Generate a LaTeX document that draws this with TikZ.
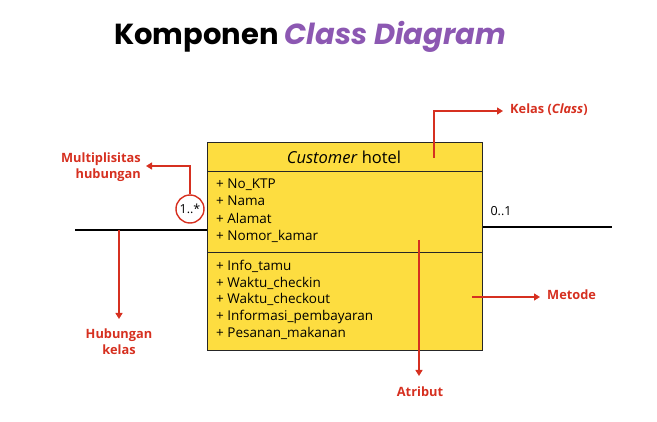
\documentclass[tikz,border=0pt]{standalone}
\usepackage{fontspec}
\setmainfont{Open Sans}
\newfontfamily\titlefont{Poppins}
\usetikzlibrary{arrows.meta}
\definecolor{redc}{RGB}{214,48,32}
\definecolor{purp}{RGB}{140,88,178}
\definecolor{yel}{RGB}{253,221,64}
\tikzset{
  cls/.style={draw=black!85, fill=yel, line width=1.3pt, minimum width=275pt, inner sep=0pt, anchor=north west},
  item/.style={anchor=west, inner sep=0pt, font=\fontsize{13.5}{15}\selectfont, text height=9.5pt, text depth=3pt},
  assoc/.style={line width=1.8pt, black},
  redarr/.style={draw=redc, line width=1.4pt, -{Triangle[length=6pt,width=7pt]}},
  lbl/.style={text=redc, font=\fontsize{12.8}{16}\selectfont\bfseries, inner sep=0pt},
}
\begin{document}
\begin{tikzpicture}[x=1pt,y=-1pt]
\useasboundingbox (0,0) rectangle (657,422);
% title
\node[anchor=west, inner sep=0pt, font=\titlefont\fontsize{29}{32}\selectfont\bfseries] (title) at (114,37) {Komponen \textcolor{purp}{\itshape Class Diagram}};
% class box
\node[cls, minimum height=29pt] (hdr) at (207,142) {};
\node[cls, minimum height=81pt] (attr) at (207,171) {};
\node[cls, minimum height=98pt] (meth) at (207,252) {};
\node[font=\fontsize{16.5}{18}\selectfont, inner sep=0pt] (hname) at (344,157) {\textit{Customer} hotel};
\node[item] (a1) at (216,185) {+ No\_KTP};
\node[item] (a2) at (216,202) {+ Nama};
\node[item] (a3) at (216,220) {+ Alamat};
\node[item] (a4) at (216,237) {+ Nomor\_kamar};
\node[item] (m1) at (216,267) {+ Info\_tamu};
\node[item] (m2) at (216,284) {+ Waktu\_checkin};
\node[item] (m3) at (216,300) {+ Waktu\_checkout};
\node[item] (m4) at (216,317) {+ Informasi\_pembayaran};
\node[item] (m5) at (216,334) {+ Pesanan\_makanan};
% associations
\coordinate (L) at (75,230);
\coordinate (R) at (612,227);
\draw[assoc] (L) -- (L -| attr.west);
\draw[assoc] (R -| attr.east) -- (R);
\node[inner sep=0pt, font=\fontsize{12.5}{14}\selectfont] (zo) at (501,211) {0..1};
\node[draw=redc, line width=1.4pt, circle, minimum size=28pt, inner sep=0pt, font=\fontsize{12.5}{14}\selectfont] (mult) at (190,209) {1..*};
% annotations
\coordinate (mtip) at (146,166);
\draw[redarr] (mult.north) |- (mtip);
\node[lbl, anchor=east, align=right] (mlbl) at (141,167) {Multiplisitas\\hubungan};
\coordinate (hstart) at (119,230);
\coordinate (htip) at (119,319);
\draw[redarr] (hstart) -- (htip);
\node[lbl, align=center] (hlbl) at (119,342) {Hubungan\\kelas};
\coordinate (kstart) at (434,158);
\coordinate (ktip) at (503,111);
\draw[redarr] (kstart) |- (ktip);
\node[lbl, anchor=west] (klbl) at (510,110) {Kelas (\textit{Class})};
\coordinate (astart) at (419,240);
\coordinate (atip) at (419,376);
\draw[redarr] (astart) -- (atip);
\node[lbl] (albl) at (420,392) {Atribut};
\coordinate (mstart) at (472,297);
\coordinate (mtip2) at (540,297);
\draw[redarr] (mstart) -- (mtip2);
\node[lbl, anchor=west] (metlbl) at (547,295) {Metode};
\end{tikzpicture}
\end{document}
